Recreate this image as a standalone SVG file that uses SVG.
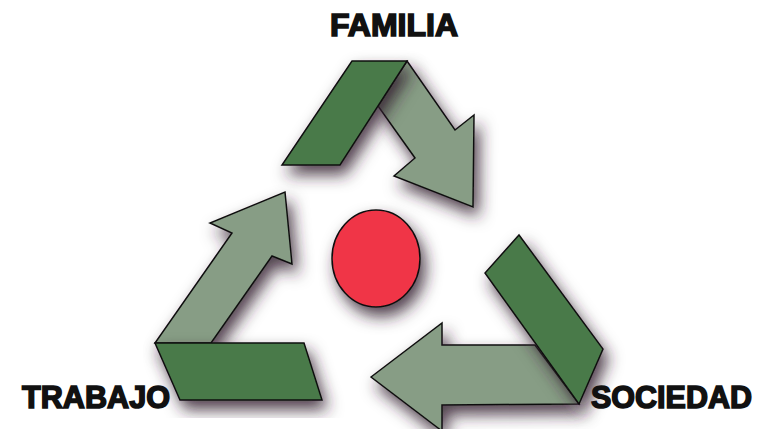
<svg xmlns="http://www.w3.org/2000/svg" width="759" height="429" viewBox="0 0 759 429">
<defs>
<filter id="sh" x="-30%" y="-30%" width="160%" height="160%">
<feDropShadow dx="5" dy="9" stdDeviation="8" flood-color="#33222f" flood-opacity="0.85"/>
</filter>
<style>
.dark{fill:#4a7a4a;stroke:#111;stroke-width:1.5;stroke-linejoin:miter}
.light{fill:#879d85;stroke:#111;stroke-width:1.5;stroke-linejoin:miter}
.lbl{font-family:"Liberation Sans",Arial,sans-serif;font-weight:bold;font-size:31px;fill:#111;stroke:#111;stroke-width:1.6}
</style>
</defs>
<rect width="759" height="429" fill="#fff"/>
<g id="connectors" filter="url(#sh)">
<polygon class="light" points="407,61 455,130 474,115 473,207 394,176 415,158 378,106"/>
<polygon class="light" points="155,343 211,343 272,256 292,264 285,192 210,223 232,233"/>
<polygon class="light" points="371,377 442,323 442,345 535,345 579,404 442,405 442,431"/>
</g>
<g id="node-familia" filter="url(#sh)">
<polygon class="dark" points="352,61 407,61 340,165 282,165"/>
</g>
<g id="node-trabajo" filter="url(#sh)">
<polygon class="dark" points="155,343 304,343 322,400 180,400"/>
</g>
<g id="node-sociedad" filter="url(#sh)">
<polygon class="dark" points="519,235 603,349 579,404 485,273"/>
</g>
<g id="node-centro" filter="url(#sh)">
<ellipse cx="376" cy="258.5" rx="44" ry="48.5" fill="#f03447" stroke="#111" stroke-width="1.5"/>
</g>
<g id="labels">
<text id="label-familia" class="lbl" x="330" y="36" textLength="128" lengthAdjust="spacingAndGlyphs">FAMILIA</text>
<text id="label-trabajo" class="lbl" x="22" y="408" textLength="148" lengthAdjust="spacingAndGlyphs">TRABAJO</text>
<text id="label-sociedad" class="lbl" x="591" y="408" textLength="161" lengthAdjust="spacingAndGlyphs">SOCIEDAD</text>
</g>
</svg>
